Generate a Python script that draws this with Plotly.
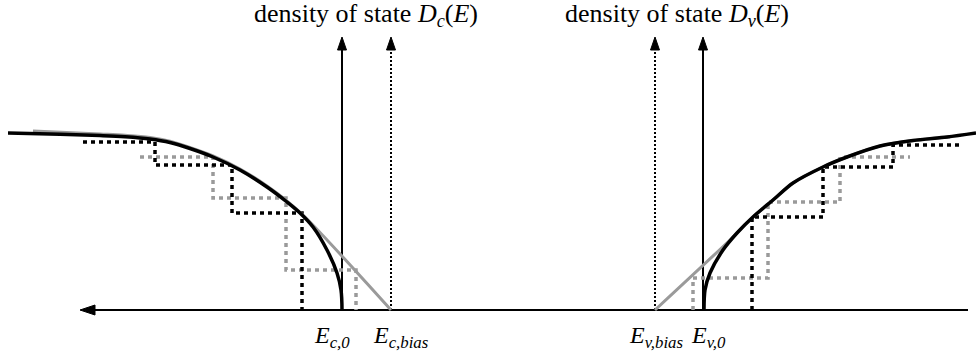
import plotly.graph_objects as go

# ---------------- data (schematic coordinates) ----------------
# energy levels on the horizontal axis
Ec0, Ec_bias, Ev_bias, Ev0 = 342, 391, 655, 703
axis_y = 310           # zero of density of states
axis_left, axis_right = 80, 968
arrow_top = 37

# conduction band DOS (left), unbiased (black) and biased (gray)
cb_x = [8, 60, 100, 125, 150, 170, 190, 213, 240, 267, 287, 300, 313, 327, 337, 341, 342]
cb_y = [133, 134.3, 135.6, 136.8, 139, 142.5, 148.5, 157, 170, 187, 202, 213, 227, 250, 273, 290, 310]
cb_bias_x = [33, 100, 125, 150, 170, 190, 213, 240, 267, 287, 305, 391]
cb_bias_y = [131, 134, 135.3, 137.5, 141.2, 147.5, 156, 169, 186, 201, 217, 310]

# conduction band discrete states (staircases)
cb_step_x = [83, 155, 155, 232, 232, 302, 302]
cb_step_y = [142, 142, 165, 165, 213, 213, 310]
cb_step_bias_x = [140, 213, 213, 286, 286, 356, 356]
cb_step_bias_y = [157, 157, 198, 198, 270, 270, 310]

# valence band DOS (right)
vb_x = [704, 705, 710, 723, 737, 753, 773, 793, 823, 847, 880, 913, 947, 976]
vb_y = [310, 290, 273, 250, 233, 217, 200, 183, 167, 157, 146, 140.5, 137, 133]
vb_bias_x = [655, 730, 737, 753, 773, 793, 823, 847, 880, 913, 950]
vb_bias_y = [310, 240, 233, 217, 200, 183, 167, 157, 146, 140.5, 137]

vb_step_x = [752, 752, 823, 823, 893, 893, 962]
vb_step_y = [310, 217, 217, 167, 167, 145, 145]
vb_step_bias_x = [693, 693, 768, 768, 840, 840, 910]
vb_step_bias_y = [310, 278, 278, 202, 202, 157, 157]

level_labels = ["<i>E</i><sub><i>c,0</i></sub>", "<i>E</i><sub><i>c,bias</i></sub>",
                "<i>E</i><sub><i>v,bias</i></sub>", "<i>E</i><sub><i>v,0</i></sub>"]
label_x = [332, 401, 656, 708]
titles = ["density of state <i>D</i><sub><i>c</i></sub>(<i>E</i>)",
          "density of state <i>D</i><sub><i>v</i></sub>(<i>E</i>)"]
title_x = [366, 677]

# ---------------- styles ----------------
BLACK = "#000000"
GRAY = "#9a9a9a"
FONT = "Liberation Serif"

fig = go.Figure()

def line(x, y, color, width, dash="solid", shape="linear", smoothing=1.0):
    ln = dict(color=color, width=width, dash=dash, shape=shape)
    if shape == "spline":
        ln["smoothing"] = smoothing
    fig.add_trace(go.Scatter(x=x, y=y, mode="lines", line=ln, hoverinfo="skip"))

def head(tip_x, tip_y, direction, length, half):
    if direction == "up":
        xs = [tip_x, tip_x - half, tip_x + half, tip_x]
        ys = [tip_y, tip_y + length, tip_y + length, tip_y]
    else:  # left
        xs = [tip_x, tip_x + length, tip_x + length, tip_x]
        ys = [tip_y, tip_y - half, tip_y + half, tip_y]
    fig.add_trace(go.Scatter(x=xs, y=ys, mode="lines", fill="toself",
                             fillcolor=BLACK, line=dict(color=BLACK, width=1),
                             hoverinfo="skip"))

# horizontal energy axis with arrow to the left
line([axis_left + 12, axis_right], [axis_y, axis_y], BLACK, 2)
head(axis_left, axis_y, "left", 15, 5)

# vertical DOS axes
for xv, dsh in [(Ec0, "solid"), (Ec_bias, "2px,2px"), (Ev_bias, "2px,2px"), (Ev0, "solid")]:
    line([xv, xv], [axis_y, arrow_top + 10], BLACK, 2, dash=dsh)
    head(xv, arrow_top, "up", 13, 4.5)

# staircases
line(cb_step_bias_x, cb_step_bias_y, GRAY, 3.5, dash="4px,4px")
line(vb_step_bias_x, vb_step_bias_y, GRAY, 3.5, dash="4px,4px")
line(cb_step_x, cb_step_y, BLACK, 3.5, dash="4px,4px")
line(vb_step_x, vb_step_y, BLACK, 3.5, dash="4px,4px")

# continuous DOS
line(cb_bias_x, cb_bias_y, GRAY, 3, shape="spline", smoothing=1.0)
line(vb_bias_x, vb_bias_y, GRAY, 3, shape="spline", smoothing=0.8)
line(cb_x, cb_y, BLACK, 3.5, shape="spline", smoothing=1.0)
line(vb_x, vb_y, BLACK, 3.5, shape="spline", smoothing=0.8)

annotations = []
for t, x in zip(titles, title_x):
    annotations.append(dict(x=x, y=15, xref="x", yref="y", text=t, showarrow=False,
                            xanchor="center", yanchor="middle",
                            font=dict(family=FONT, size=26, color=BLACK)))
for t, x in zip(level_labels, label_x):
    annotations.append(dict(x=x, y=337, xref="x", yref="y", text=t, showarrow=False,
                            xanchor="center", yanchor="middle",
                            font=dict(family=FONT, size=24, color=BLACK)))

fig.update_layout(
    width=976, height=356,
    margin=dict(l=0, r=0, t=0, b=0),
    paper_bgcolor="white", plot_bgcolor="white",
    showlegend=False,
    xaxis=dict(range=[0, 976], visible=False, fixedrange=True),
    yaxis=dict(range=[356, 0], visible=False, fixedrange=True),
    annotations=annotations,
)

fig.write_html("out.html", config={"displayModeBar": False},
               post_script="document.body.style.margin='0px';document.body.style.overflow='hidden';")
